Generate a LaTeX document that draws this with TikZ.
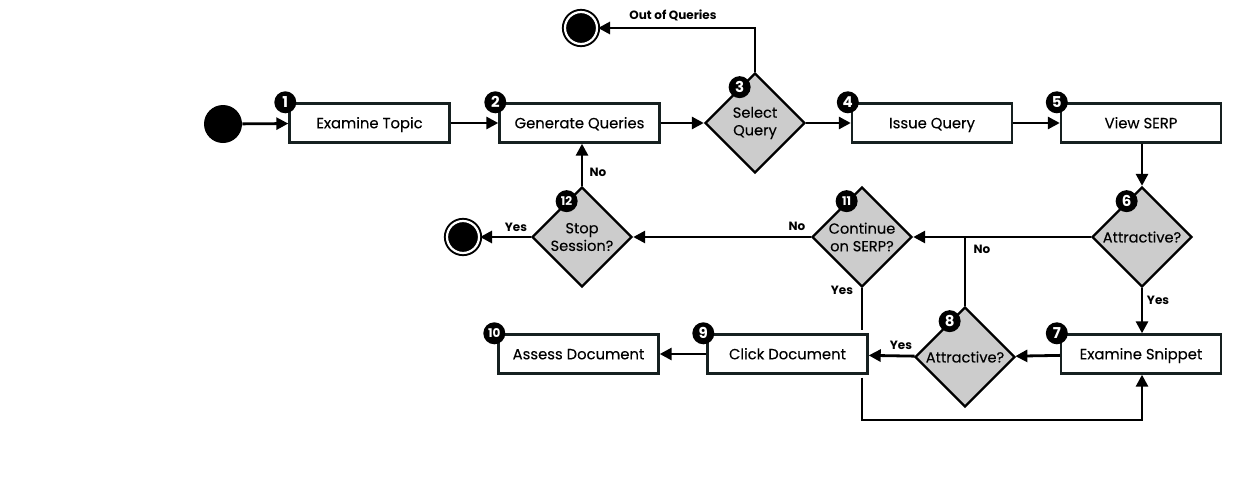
\documentclass[tikz,border=0pt]{standalone}
\usepackage{fontspec}
\setmainfont{Poppins}[UprightFeatures={FakeBold=0.15}]
\usetikzlibrary{shapes.geometric,arrows.meta,calc}
\definecolor{diagray}{RGB}{204,204,204}
\definecolor{boxline}{RGB}{22,32,32}
\tikzset{
  flowbox/.style={draw=boxline,line width=1.2pt,fill=white,minimum width=80pt,minimum height=19.5pt,inner sep=0pt,text height=5.3pt,text depth=0pt,font=\fontsize{7.4}{9}\selectfont},
  choice/.style={diamond,draw=black,line width=1.2pt,fill=diagray,minimum width=50pt,minimum height=50pt,inner sep=0pt,align=center,font=\fontsize{7.3}{8.8}\selectfont},
  badge/.style={circle,fill=black,text=white,inner sep=0pt,minimum size=11pt,font=\bfseries\fontsize{7.5}{8}\selectfont},
  startstate/.style={circle,fill=black,minimum size=19pt,inner sep=0pt},
  endstate/.style={circle,fill=black,draw=black,double=white,double distance=1.1pt,line width=1pt,minimum size=16pt,inner sep=0pt},
  flow/.style={line width=1.4pt,-{Triangle[length=6pt,width=6pt]}},
  link/.style={line width=1.4pt},
  tag/.style={font=\bfseries\fontsize{6}{7}\selectfont}
}
\begin{document}
\begin{tikzpicture}[x=0.5pt,y=-0.5pt]
  \useasboundingbox (0,0) rectangle (1240,482);
  % top row
  \node[startstate] (start) at (223,124) {};
  \node[flowbox] (topic) at (369.5,123) {Examine Topic};
  \node[flowbox] (gen) at (579.5,123) {Generate Queries};
  \node[choice] (select) at (755,123) {Select\\Query};
  \node[flowbox] (issue) at (932,123) {Issue Query};
  \node[flowbox] (serp) at (1141,123) {View SERP};
  \node[endstate] (outq) at (581,28) {};
  % middle row
  \node[choice] (attr) at (1142,237) {Attractive?};
  \node[choice] (cont) at (862,237) {Continue\\on SERP?};
  \node[choice] (stop) at (582,237) {Stop\\Session?};
  \node[endstate] (endb) at (463,237) {};
  % bottom row
  \node[flowbox] (snippet) at (1141,354) {Examine Snippet};
  \node[choice] (attrdoc) at (965,357) {Attractive?};
  \node[flowbox] (click) at (787.5,354) {Click Document};
  \node[flowbox] (assess) at (578.5,354) {Assess Document};
  \coordinate (loopturn) at (862,420);
  % step numbers
  \foreach \nd/\nr in {topic/1,gen/2,issue/4,serp/5,snippet/7,click/9}
    \node[badge] (n\nr) at ([xshift=-1.5pt]\nd.north west) {\nr};
  \node[badge,font=\bfseries\fontsize{6}{7}\selectfont] (n10) at ([xshift=-1.5pt]assess.north west) {10};
  \foreach \nd/\nr in {select/3,attr/6,attrdoc/8}
    \node[badge] (n\nr) at ($(\nd.north)!0.3!(\nd.west)$) {\nr};
  \foreach \nd/\nr in {cont/11,stop/12}
    \node[badge,font=\bfseries\fontsize{6}{7}\selectfont] (n\nr) at ($(\nd.north)!0.3!(\nd.west)$) {\nr};
  % connectors
  \draw[flow] (start) -- (topic);
  \draw[flow] (topic) -- (gen);
  \draw[flow] (gen) -- (select);
  \draw[flow] (select) -- (issue);
  \draw[flow] (issue) -- (serp);
  \draw[flow] (select.north) |- (outq);
  \node[tag] (lout) at (673,15) {Out of Queries};
  \draw[flow] (serp.south -| attr.north) -- (attr.north);
  \draw[flow] (attr) -- (cont);
  \draw[flow] (attr.south) -- (attr.south |- snippet.north);
  \node[tag] (lyes6) at (1158,300) {Yes};
  \draw[flow] (snippet) -- (attrdoc);
  \draw[flow] (attrdoc) -- (click);
  \node[tag] (lyes8) at (901,345) {Yes};
  \draw[link] (attrdoc.north) -- (attrdoc.north |- attr.west);
  \node[tag] (lno8) at (982,249) {No};
  \draw[flow] (click) -- (assess);
  \draw[flow] (cont) -- (stop);
  \node[tag] (lno11) at (797,226) {No};
  \draw[flow] (stop) -- (endb);
  \node[tag] (lyes12) at (516,227) {Yes};
  \draw[flow] (stop.north) -- (stop.north |- gen.south);
  \node[tag] (lno12) at (598,172) {No};
  \draw[link,shorten >=1.5pt] (cont.south) -- (cont.south |- click.north);
  \node[tag] (lyes11) at (842,290) {Yes};
  \draw[flow,shorten <=1.5pt] (cont.south |- click.south) -- (loopturn) -| (attr.south |- snippet.south);
\end{tikzpicture}
\end{document}
